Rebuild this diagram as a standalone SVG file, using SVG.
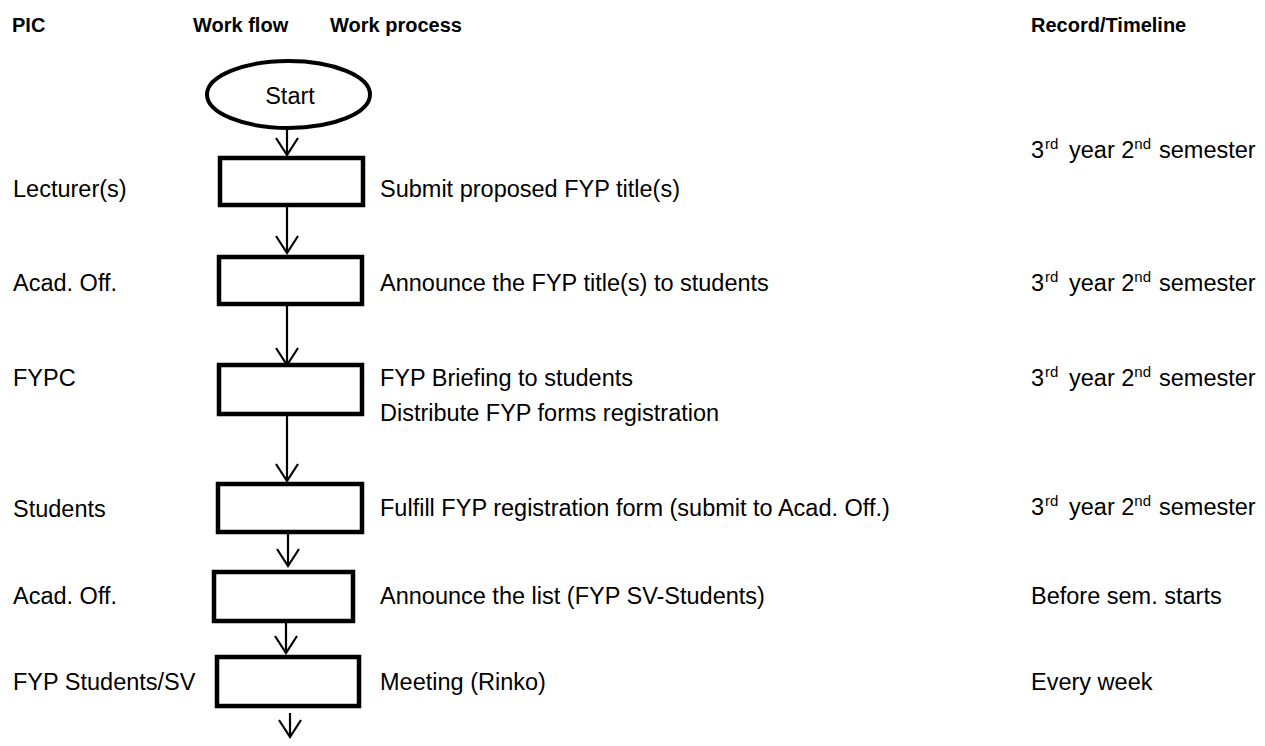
<svg xmlns="http://www.w3.org/2000/svg" width="1265" height="746" viewBox="0 0 1265 746">
<style>
text{font-family:"Liberation Sans",Arial,sans-serif;fill:#000;}
.h{font-weight:bold;font-size:20px;}
.t{font-size:23.5px;}
.sup{font-size:15px;}
.box{fill:#fff;stroke:#000;stroke-width:4.5;}
.conn{stroke:#000;stroke-width:2.2;fill:none;}
</style>
<defs>
<marker id="arr" markerUnits="userSpaceOnUse" markerWidth="40" markerHeight="40" viewBox="-20 -20 40 40" refX="0" refY="0" orient="auto" overflow="visible">
<path d="M-17,-11 L0,0 L-17,11" fill="none" stroke="#000" stroke-width="2.2"/>
</marker>
</defs>
<rect width="1265" height="746" fill="#fff"/>
<g id="headers">
<text class="h" x="12" y="32">PIC</text>
<text class="h" x="193" y="32">Work flow</text>
<text class="h" x="330" y="32">Work process</text>
<text class="h" x="1031" y="32">Record/Timeline</text>
</g>
<g id="connectors">
<line class="conn" x1="287" y1="130" x2="287" y2="155" marker-end="url(#arr)"/>
<line class="conn" x1="287" y1="207" x2="287" y2="253" marker-end="url(#arr)"/>
<line class="conn" x1="287" y1="306" x2="287" y2="365" marker-end="url(#arr)"/>
<line class="conn" x1="287" y1="416" x2="287" y2="481" marker-end="url(#arr)"/>
<line class="conn" x1="288" y1="534" x2="288" y2="566" marker-end="url(#arr)"/>
<line class="conn" x1="286" y1="623" x2="286" y2="653" marker-end="url(#arr)"/>
<line class="conn" x1="290" y1="713" x2="290" y2="737" marker-end="url(#arr)"/>
</g>
<g id="start">
<ellipse cx="288.5" cy="94.5" rx="81.5" ry="33.5" fill="#fff" stroke="#000" stroke-width="4"/>
<text class="t" x="290" y="104" text-anchor="middle">Start</text>
</g>
<g id="step1">
<rect class="box" x="220" y="158" width="143" height="47"/>
<text class="t" x="13" y="197">Lecturer(s)</text>
<text class="t" x="380" y="197">Submit proposed FYP title(s)</text>
<text class="t" y="158"><tspan x="1031">3</tspan><tspan class="sup" x="1045" dy="-9">rd</tspan><tspan x="1069" dy="9">year 2</tspan><tspan class="sup" dy="-9">nd</tspan><tspan x="1159" dy="9">semester</tspan></text>
</g>
<g id="step2">
<rect class="box" x="219" y="257" width="143" height="47"/>
<text class="t" x="13" y="291">Acad. Off.</text>
<text class="t" x="380" y="291">Announce the FYP title(s) to students</text>
<text class="t" y="291"><tspan x="1031">3</tspan><tspan class="sup" x="1045" dy="-9">rd</tspan><tspan x="1069" dy="9">year 2</tspan><tspan class="sup" dy="-9">nd</tspan><tspan x="1159" dy="9">semester</tspan></text>
</g>
<g id="step3">
<rect class="box" x="219" y="365" width="143" height="49"/>
<text class="t" x="13" y="386">FYPC</text>
<text class="t" x="380" y="386">FYP Briefing to students</text>
<text class="t" x="380" y="421">Distribute FYP forms registration</text>
<text class="t" y="386"><tspan x="1031">3</tspan><tspan class="sup" x="1045" dy="-9">rd</tspan><tspan x="1069" dy="9">year 2</tspan><tspan class="sup" dy="-9">nd</tspan><tspan x="1159" dy="9">semester</tspan></text>
</g>
<g id="step4">
<rect class="box" x="218" y="484" width="144" height="48"/>
<text class="t" x="13" y="517">Students</text>
<text class="t" x="380" y="516">Fulfill FYP registration form (submit to Acad. Off.)</text>
<text class="t" y="515"><tspan x="1031">3</tspan><tspan class="sup" x="1045" dy="-9">rd</tspan><tspan x="1069" dy="9">year 2</tspan><tspan class="sup" dy="-9">nd</tspan><tspan x="1159" dy="9">semester</tspan></text>
</g>
<g id="step5">
<rect class="box" x="214" y="572" width="139" height="49"/>
<text class="t" x="13" y="604">Acad. Off.</text>
<text class="t" x="380" y="604">Announce the list (FYP SV-Students)</text>
<text class="t" x="1031" y="604">Before sem. starts</text>
</g>
<g id="step6">
<rect class="box" x="217" y="657" width="142" height="49"/>
<text class="t" x="13" y="690">FYP Students/SV</text>
<text class="t" x="380" y="690">Meeting (Rinko)</text>
<text class="t" x="1031" y="690">Every week</text>
</g>
</svg>
